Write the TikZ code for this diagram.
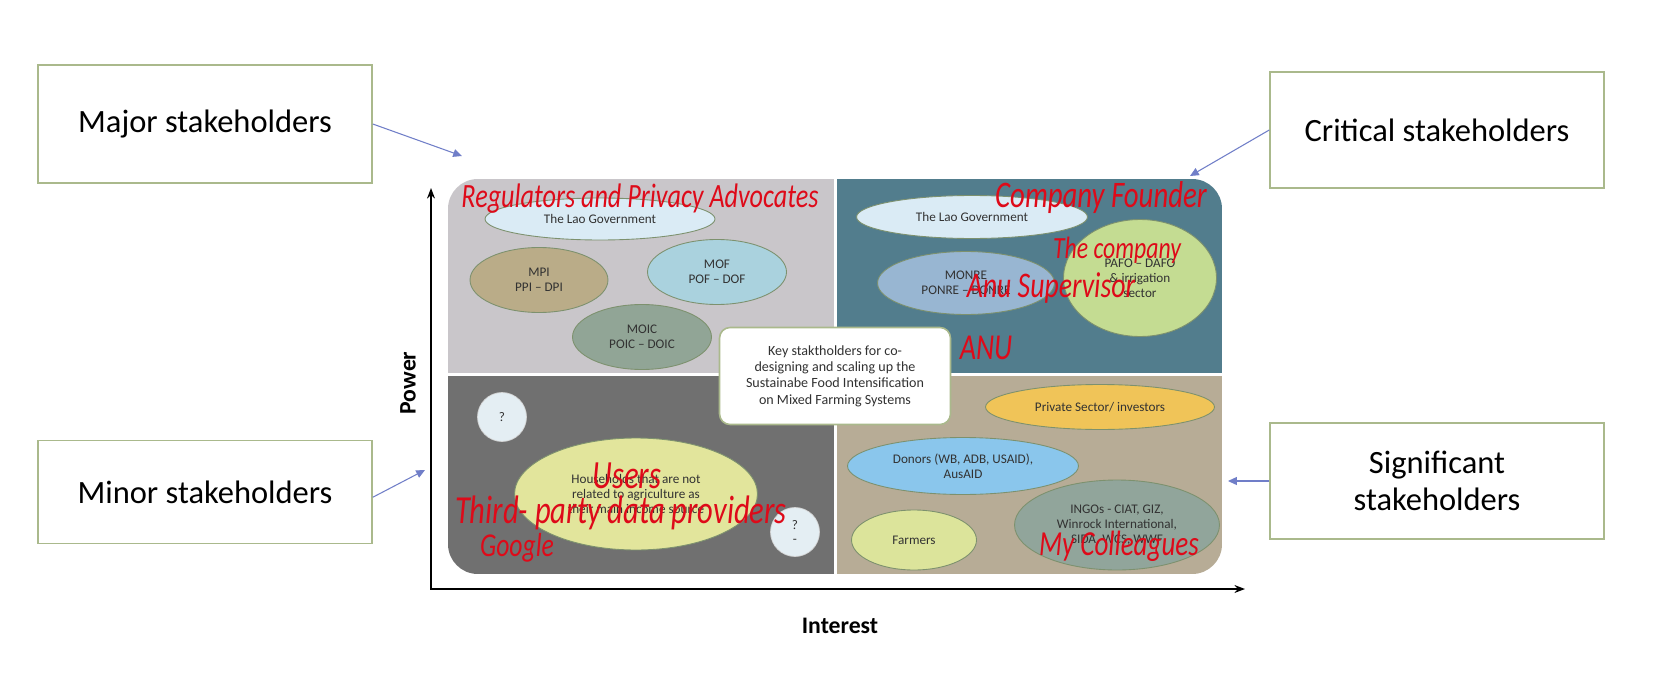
\documentclass[tikz,border=0pt]{standalone}
\usepackage{fontspec}
\setmainfont{Carlito}
\usepackage{tikz}
\usetikzlibrary{shapes.geometric,arrows.meta}
\definecolor{boxedge}{RGB}{170,185,140}
\definecolor{pointblue}{RGB}{112,126,200}
\definecolor{blobedge}{RGB}{125,145,110}
\definecolor{blobtext}{RGB}{50,50,50}
\definecolor{inkred}{RGB}{222,10,25}
\definecolor{qfill}{RGB}{228,238,243}
\definecolor{tlgray}{RGB}{201,198,202}
\definecolor{trteal}{RGB}{82,125,141}
\definecolor{blgray}{RGB}{112,112,112}
\definecolor{brtan}{RGB}{183,172,150}
\definecolor{govblue}{RGB}{218,235,245}
\definecolor{mpitan}{RGB}{186,172,136}
\definecolor{mofblue}{RGB}{170,210,222}
\definecolor{moicgreen}{RGB}{145,165,150}
\definecolor{monreblue}{RGB}{152,182,210}
\definecolor{pafogreen}{RGB}{196,220,146}
\definecolor{househy}{RGB}{226,229,156}
\definecolor{privorange}{RGB}{240,196,88}
\definecolor{donorblue}{RGB}{138,198,236}
\definecolor{farmgreen}{RGB}{220,228,155}
\definecolor{ingogreen}{RGB}{145,165,155}
\newcommand\hand[1]{\scalebox{1}[1.3]{#1}}

\begin{document}
\begin{tikzpicture}[x=0.02cm, y=-0.02cm,
	stakebox/.style={draw=boxedge, line width=0.9pt, fill=white, minimum width=6.68cm, align=center, font=\fontsize{18.5}{21}\selectfont},
	blob/.style={ellipse, draw=blobedge, line width=0.5pt, inner sep=0pt, align=center, text=blobtext, font=\fontsize{7.5}{8.5}\selectfont},
	quest/.style={circle, draw=gray!35, fill=qfill, minimum size=0.98cm, inner sep=0pt, align=center, text=blobtext, font=\fontsize{7.5}{8}\selectfont},
	scribble/.style={text=inkred, inner sep=0pt, font=\itshape\fontsize{#1}{#1}\selectfont},
	pointer/.style={draw=pointblue, line width=0.6pt, -{Triangle[length=5pt,width=4.5pt]}},
	axis/.style={line width=1.1pt, -{Stealth[length=6pt,width=4.5pt]}}]
	\fill[white] (0,0) rectangle (1666,679);
	\useasboundingbox (0,0) rectangle (1666,679);

	\begin{scope}
		\clip[rounded corners=17pt] (448,179) rectangle (1222,574);
		\fill[tlgray] (448,179) rectangle (833.5,372.5);
		\fill[trteal] (836.5,179) rectangle (1222,372.5);
		\fill[blgray] (448,375.5) rectangle (833.5,574);
		\fill[brtan] (836.5,375.5) rectangle (1222,574);
	\end{scope}

	\node[blob, fill=govblue, minimum width=4.6cm, minimum height=0.84cm] (govL) at (600,219) {The Lao Government};
	\node[blob, fill=mpitan, minimum width=2.76cm, minimum height=1.3cm] (mpi) at (539,280) {MPI\\PPI -- DPI};
	\node[blob, fill=mofblue, minimum width=2.78cm, minimum height=1.3cm] (mof) at (717,272) {MOF\\POF -- DOF};
	\node[blob, fill=moicgreen, minimum width=2.78cm, minimum height=1.3cm] (moic) at (642,337) {MOIC\\POIC -- DOIC};

	\node[blob, fill=govblue, minimum width=4.62cm, minimum height=0.86cm] (govR) at (972,217) {The Lao Government};
	\node[blob, fill=monreblue, minimum width=3.54cm, minimum height=1.26cm] (monre) at (966,283) {MONRE\\PONRE -- DONRE};
	\node[blob, fill=pafogreen, minimum width=3.06cm, minimum height=2.34cm] (pafo) at (1140,278) {PAFO -- DAFO\\\& irrigation\\sector};

	\node[quest] (qa) at (502,417) {?};
	\node[blob, fill=househy, minimum width=4.86cm, minimum height=2.24cm] (households) at (636,494) {Households that are not\\related to agriculture as\\their main income source};
	\node[quest] (qb) at (795,532) {?\\-};

	\node[blob, fill=privorange, minimum width=4.58cm, minimum height=0.9cm] (private) at (1100,407) {Private Sector/ investors};
	\node[blob, fill=donorblue, minimum width=4.62cm, minimum height=1.14cm] (donors) at (963,466) {Donors (WB, ADB, USAID),\\AusAID};
	\node[blob, fill=farmgreen, minimum width=2.5cm, minimum height=1.2cm] (farmers) at (914,540) {Farmers};
	\node[blob, fill=ingogreen, minimum width=4.1cm, minimum height=1.8cm] (ingos) at (1117,525) {INGOs - CIAT, GIZ,\\Winrock International,\\SIDA, WCS, WWF};

	\node[draw=boxedge, line width=0.9pt, fill=white, rounded corners=6pt, minimum width=4.62cm, minimum height=1.94cm, align=center, text=blobtext, font=\fontsize{8}{9.3}\selectfont] (keybox) at (835,376) {Key staktholders for co-\\designing and scaling up the\\Sustainabe Food Intensification\\on Mixed Farming Systems};

	\node[scribble=14.9] (regulators) at (640,199) {\hand{Regulators and Privacy Advocates}};
	\node[scribble=16.4] (founder) at (1101,198) {\hand{Company Founder}};
	\node[scribble=13.5] (company) at (1117,250) {\hand{The company}};
	\node[scribble=15.8] (supervisor) at (1051,288) {\hand{Anu Supervisor}};
	\node[scribble=16] (anu) at (986,348) {\hand{ANU}};
	\node[scribble=17.5] (users) at (627,476) {\hand{Users}};
	\node[scribble=17.4] (thirdparty) at (621,513) {\hand{Third- party data providers}};
	\node[scribble=14.6] (google) at (517,548) {\hand{Google}};
	\node[scribble=15.4] (colleagues) at (1119,546) {\hand{My Colleagues}};

	\node[stakebox, minimum height=2.36cm] (major) at (205,124) {Major stakeholders};
	\node[stakebox, minimum height=2.32cm] (critical) at (1437,130) {Critical stakeholders};
	\node[stakebox, minimum height=2.06cm] (minor) at (205,492) {Minor stakeholders};
	\node[stakebox, minimum height=2.32cm] (significant) at (1437,481) {Significant\\stakeholders};

	\coordinate (majorend) at (462,156);
	\coordinate (criticalend) at (1190,176);
	\coordinate (minorend) at (425,470);
	\coordinate (significantend) at (1228,481);
	\draw[pointer] (major.east) -- (majorend);
	\draw[pointer] (critical.west) -- (criticalend);
	\draw[pointer] ([yshift=-3pt]minor.east) -- (minorend);
	\draw[pointer] (significant.west) -- (significantend);

	\coordinate (origin) at (431,589);
	\coordinate (ytop) at (431,188);
	\coordinate (xend) at (1245,589);
	\draw[axis] (origin) -- (ytop);
	\draw[axis] ([xshift=-0.55pt]origin) -- (xend);
	\node[rotate=90, font=\bfseries\fontsize{13.5}{16}\selectfont] (power) at (408,383) {Power};
	\node[font=\bfseries\fontsize{13.5}{16}\selectfont] (interest) at (840,626) {Interest};
\end{tikzpicture}
\end{document}
